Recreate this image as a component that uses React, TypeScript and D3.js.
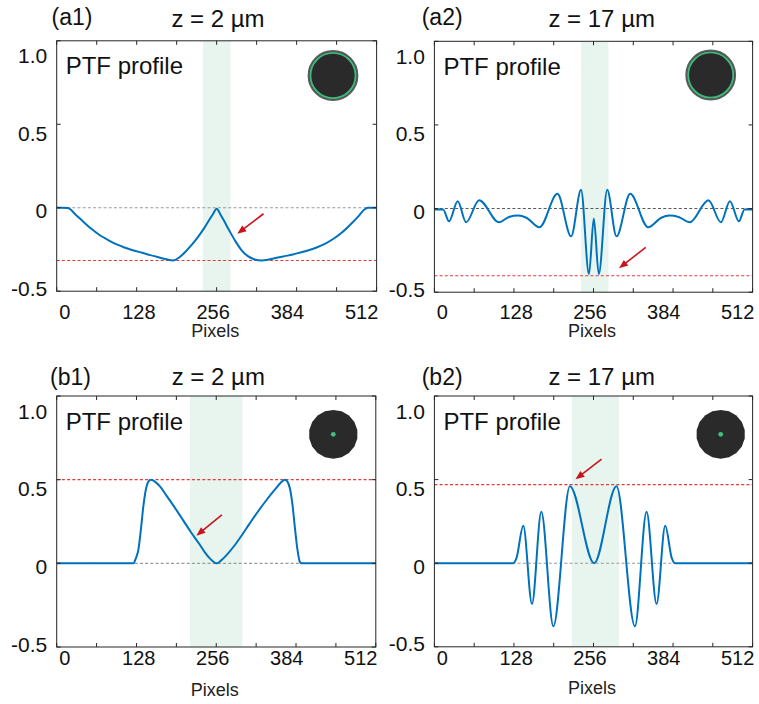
import React from 'react';
import * as d3 from 'd3';

// ---------- data ----------
const pixelsA1 = [0, 8, 18, 30, 43, 56, 69, 83, 96, 110, 123, 137, 150, 163, 176, 186, 196, 206, 216, 226, 236, 244, 250, 256, 262, 268, 276, 286, 296, 306, 317, 328, 340, 352, 365, 378, 390, 403, 416, 430, 443, 456, 469, 482, 492, 498, 512];
const ptfA1 = [0, 0, -0.002, -0.04, -0.085, -0.128, -0.165, -0.195, -0.22, -0.24, -0.256, -0.27, -0.284, -0.297, -0.309, -0.316, -0.298, -0.264, -0.223, -0.176, -0.122, -0.074, -0.039, -0.006, -0.04, -0.08, -0.135, -0.2, -0.255, -0.29, -0.31, -0.316, -0.31, -0.3, -0.29, -0.28, -0.268, -0.255, -0.238, -0.215, -0.186, -0.15, -0.105, -0.055, -0.012, 0, 0];

const pixelsA2 = [0, 14, 23.5, 37.5, 51, 72, 104, 120, 135, 148, 169, 198, 220, 236, 248.7, 256.5, 264.5, 278, 293, 315, 344, 365, 378, 393, 411, 441, 461, 475.5, 490, 499, 512];
const ptfA2 = [-0.005, -0.005, -0.076, 0.044, -0.082, 0.05, -0.082, -0.05, -0.042, -0.055, -0.112, 0.088, -0.166, 0.112, -0.392, -0.06, -0.392, 0.112, -0.166, 0.088, -0.112, -0.055, -0.042, -0.05, -0.082, 0.05, -0.082, 0.044, -0.076, -0.005, -0.005];

const pixelsB1 = [0, 123, 127, 131, 135, 139, 143, 147, 151, 157, 166, 177, 190, 203, 216, 228, 238, 246, 252, 256.5, 261, 267, 275, 285, 297, 310, 323, 337, 350, 359, 366, 370, 374, 378, 382, 386, 390, 393, 512];
const ptfB1 = [0, 0, 0.03, 0.08, 0.2, 0.34, 0.44, 0.488, 0.5, 0.49, 0.458, 0.4, 0.33, 0.257, 0.183, 0.12, 0.064, 0.028, 0.008, 0, 0.008, 0.028, 0.06, 0.105, 0.168, 0.24, 0.31, 0.38, 0.44, 0.48, 0.5, 0.49, 0.45, 0.36, 0.22, 0.09, 0.01, 0, 0];

const pixelsB2 = [0, 127, 132, 143, 157, 172, 191.4, 218, 257, 293, 322.7, 341.4, 357.5, 371.4, 382, 387, 512];
const ptfB2 = [0, 0, 0.03, 0.224, -0.244, 0.307, -0.377, 0.46, 0, 0.46, -0.377, 0.307, -0.244, 0.224, 0.03, 0, 0];

const xTicks = [0, 64, 128, 192, 256, 320, 384, 448, 512];
const xTickLabels = [0, 128, 256, 384, 512];
const yTicks = [-0.5, 0, 0.5, 1.0];
const yTickLabels = ['-0.5', '0', '0.5', '1.0'];

const panelLabels = ['(a1)', '(a2)', '(b1)', '(b2)'];
const titles = ['z = 2 µm', 'z = 17 µm', 'z = 2 µm', 'z = 17 µm'];
const refLevels = [-0.316, -0.402, 0.5, 0.47];
const bandsLo = [234, 236, 214, 221];
const bandsHi = [278, 280, 298, 297];
// arrow tail / head in data units [x, y]
const arrowTails = [[331, -0.036], [340, -0.232], [265, 0.289], [269, 0.622]];
const arrowHeads = [[289, -0.156], [297, -0.357], [224, 0.165], [227, 0.502]];

// ---------- layout ----------
const FONT = '"Liberation Sans", Arial, Helvetica, sans-serif';
const BLUE = '#0072bd';

type Cfg = {
  xs: number[]; ys: number[];
  left: number; right: number; top: number; bottom: number;
  titleX: number; titleY: number; labelX: number; labelY: number;
  tickDy: number; pixDy: number;
  iconCx: number; iconCy: number; iconType: 'ring' | 'dot';
  zeroColor: string;
  i: number;
};

const panels: Cfg[] = [
  { xs: pixelsA1, ys: ptfA1, left: 56.7, right: 376.6, top: 40.8, bottom: 291.2, titleX: 218, titleY: 26.8, labelX: 51.5, labelY: 25, tickDy: 20.5, pixDy: 40, iconCx: 333, iconCy: 75.5, iconType: 'ring', zeroColor: '#9a9a9a', i: 0 },
  { xs: pixelsA2, ys: ptfA2, left: 434.4, right: 752.6, top: 41.3, bottom: 292.2, titleX: 601.7, titleY: 26.8, labelX: 421.7, labelY: 25, tickDy: 19.5, pixDy: 39, iconCx: 710.7, iconCy: 75, iconType: 'ring', zeroColor: '#5a5a5a', i: 1 },
  { xs: pixelsB1, ys: ptfB1, left: 56.7, right: 375.8, top: 396, bottom: 647, titleX: 218.3, titleY: 385.3, labelX: 50, labelY: 385, tickDy: 10.5, pixDy: 43, iconCx: 333.3, iconCy: 434.3, iconType: 'dot', zeroColor: '#9a9a9a', i: 2 },
  { xs: pixelsB2, ys: ptfB2, left: 434.4, right: 752.6, top: 396, bottom: 646.8, titleX: 601.7, titleY: 385.3, labelX: 421.7, labelY: 385, tickDy: 11.5, pixDy: 41, iconCx: 720.7, iconCy: 434.3, iconType: 'dot', zeroColor: '#9a9a9a', i: 3 },
];

function Icon({ cx, cy, type }: { cx: number; cy: number; type: 'ring' | 'dot' }) {
  if (type === 'ring') {
    return (
      <g>
        <circle cx={cx} cy={cy} r={24.6} fill="#2a2a2a" stroke="#5c5c5c" strokeWidth={1.6} />
        <circle cx={cx} cy={cy} r={22.6} fill="none" stroke="#3fb97c" strokeWidth={1.9} />
      </g>
    );
  }
  const n = 18;
  const angles = d3.range(n).map((k) => (k / n) * 2 * Math.PI);
  const path = d3
    .lineRadial<number>()
    .angle((a) => a)
    .radius(() => 24.4)
    .curve(d3.curveLinearClosed)(angles) as string;
  return (
    <g>
      <path d={path} transform={`translate(${cx},${cy})`} fill="#2a2a2a" />
      <circle cx={cx} cy={cy} r={2.4} fill="#3fc07e" />
    </g>
  );
}

function Panel({ cfg }: { cfg: Cfg }) {
  const { i } = cfg;
  const x = d3.scaleLinear().domain([0, 512]).range([cfg.left, cfg.right]);
  const y = d3.scaleLinear().domain([-0.5, 1.0]).range([cfg.bottom, cfg.top]);
  const xl = d3.scaleLinear().domain([0, 512]).range([cfg.left + 8, cfg.right - 15]);
  const yl = d3.scaleLinear().domain([-0.5, 1.0]).range([cfg.bottom - 3, cfg.top + 15]);
  const pts = cfg.xs.map((xv, k) => [xv, cfg.ys[k]] as [number, number]);
  const line = d3
    .line<[number, number]>()
    .x((d) => x(d[0]))
    .y((d) => y(d[1]))
    .curve(d3.curveMonotoneX);
  const clipId = `clip${i}`;
  const tl = 4;

  // arrow
  const tx = x(arrowTails[i][0]), ty = y(arrowTails[i][1]);
  const hx = x(arrowHeads[i][0]), hy = y(arrowHeads[i][1]);
  const dx = hx - tx, dy = hy - ty;
  const len = Math.hypot(dx, dy);
  const ux = dx / len, uy = dy / len;
  const hl = 9, hw = 3.6;
  const bx = hx - ux * hl, by = hy - uy * hl;
  const head = `M${hx},${hy}L${bx - uy * hw},${by + ux * hw}L${bx + uy * hw},${by - ux * hw}Z`;

  const cx = (cfg.left + cfg.right) / 2;
  return (
    <g>
      <defs>
        <clipPath id={clipId}>
          <rect x={cfg.left} y={cfg.top} width={cfg.right - cfg.left} height={cfg.bottom - cfg.top} />
        </clipPath>
      </defs>
      <rect x={x(bandsLo[i])} y={cfg.top} width={x(bandsHi[i]) - x(bandsLo[i])} height={cfg.bottom - cfg.top} fill="#e7f5ee" />
      <g clipPath={`url(#${clipId})`}>
        <line x1={cfg.left} x2={cfg.right} y1={y(0)} y2={y(0)} stroke={cfg.zeroColor} strokeWidth={1.1} strokeDasharray="3,2.2" />
        <line x1={cfg.left} x2={cfg.right} y1={y(refLevels[i])} y2={y(refLevels[i])} stroke="#e53a3a" strokeWidth={1.1} strokeDasharray="3,2.2" />
        <path d={line(pts) as string} fill="none" stroke={BLUE} strokeWidth={2} strokeLinejoin="round" />
      </g>
      {/* axes box */}
      <rect x={cfg.left} y={cfg.top} width={cfg.right - cfg.left} height={cfg.bottom - cfg.top} fill="none" stroke="#262626" strokeWidth={1} />
      {xTicks.map((t) => (
        <g key={'xt' + t}>
          <line x1={x(t)} x2={x(t)} y1={cfg.bottom} y2={cfg.bottom - tl} stroke="#262626" strokeWidth={1} />
          <line x1={x(t)} x2={x(t)} y1={cfg.top} y2={cfg.top + tl} stroke="#262626" strokeWidth={1} />
        </g>
      ))}
      {yTicks.map((t) => (
        <g key={'yt' + t}>
          <line x1={cfg.left} x2={cfg.left + tl} y1={y(t)} y2={y(t)} stroke="#262626" strokeWidth={1} />
          <line x1={cfg.right} x2={cfg.right - tl} y1={y(t)} y2={y(t)} stroke="#262626" strokeWidth={1} />
        </g>
      ))}
      {xTickLabels.map((t) => (
        <text key={'xl' + t} x={xl(t)} y={cfg.bottom + cfg.tickDy + 7} fontSize={20} textAnchor="middle" fill="#111" fontFamily={FONT}>
          {t}
        </text>
      ))}
      {yTicks.map((t, k) => (
        <text key={'yl' + t} x={cfg.left - 9.5} y={yl(t) + 7.5} fontSize={21} textAnchor="end" fill="#111" fontFamily={FONT}>
          {yTickLabels[k]}
        </text>
      ))}
      <text x={cx - 1.5} y={cfg.bottom + cfg.pixDy + 6} fontSize={18} textAnchor="middle" fill="#222" fontFamily={FONT}>
        Pixels
      </text>
      <text x={cfg.titleX} y={cfg.titleY} fontSize={24} textAnchor="middle" fill="#111" fontFamily={FONT}>
        {titles[i]}
      </text>
      <text x={cfg.labelX} y={cfg.labelY} fontSize={23} fill="#111" fontFamily={FONT}>
        {panelLabels[i]}
      </text>
      <text x={cfg.left + 9} y={cfg.top + 33.5} fontSize={24} fill="#111" fontFamily={FONT}>
        PTF profile
      </text>
      <Icon cx={cfg.iconCx} cy={cfg.iconCy} type={cfg.iconType} />
      <line x1={tx} y1={ty} x2={bx + ux * 1} y2={by + uy * 1} stroke="#c8141c" strokeWidth={1.6} />
      <path d={head} fill="#c8141c" />
    </g>
  );
}

export default function App() {
  return (
    <svg
      width={759}
      height={704}
      viewBox="0 0 759 704"
      style={{ position: 'absolute', left: 0, top: 0, background: '#fff' }}
    >
      <rect x={0} y={0} width={759} height={704} fill="#fff" />
      {panels.map((p) => (
        <Panel key={p.i} cfg={p} />
      ))}
    </svg>
  );
}
